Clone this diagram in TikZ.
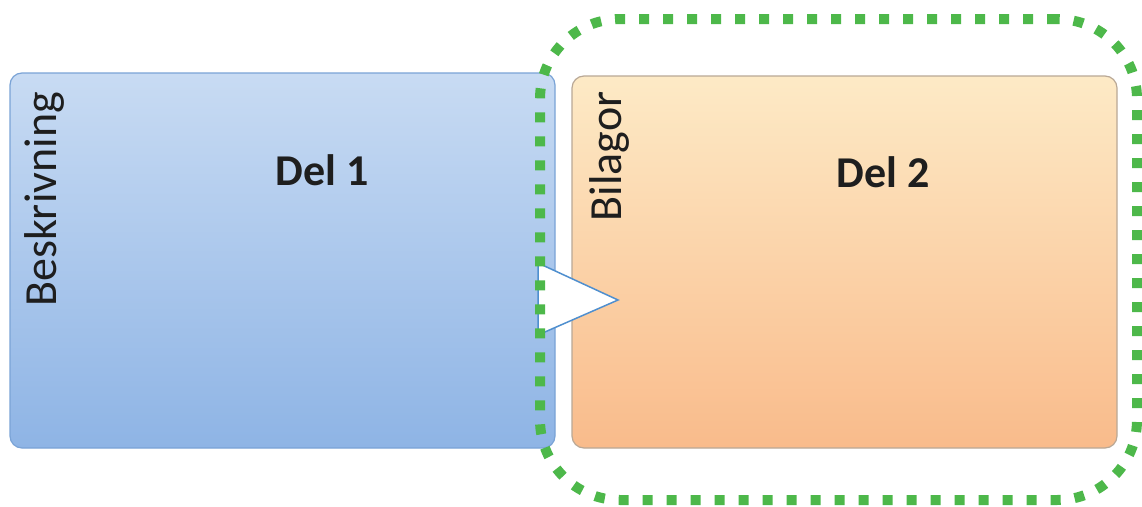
\documentclass[tikz,border=0pt]{standalone}
\usepackage{fontspec}
\setmainfont{Carlito}
\definecolor{blueTop}{HTML}{C8DBF3}
\definecolor{blueBot}{HTML}{8EB4E5}
\definecolor{blueEdge}{HTML}{7AA3D6}
\definecolor{orTop}{HTML}{FDEAC6}
\definecolor{orBot}{HTML}{F9BB8B}
\definecolor{orEdge}{HTML}{B9A896}
\definecolor{grn}{HTML}{4DB84A}
\definecolor{triEdge}{HTML}{4F8FCF}
\definecolor{txt}{HTML}{1E1E1E}
\tikzset{
  panel/.style={rectangle, rounded corners=12pt, line width=1.2pt, inner sep=0pt},
  bluepanel/.style={panel, draw=blueEdge, top color=blueTop, bottom color=blueBot},
  orpanel/.style={panel, draw=orEdge, top color=orTop, bottom color=orBot},
  sidelabel/.style={rotate=90, anchor=base, text=txt, font=\fontsize{46}{54}\selectfont, inner sep=0pt},
  titlelabel/.style={anchor=base, text=txt, font=\fontsize{44}{52}\selectfont\bfseries, inner sep=0pt},
  groupbox/.style={rectangle, draw=grn, line width=10pt, dash pattern=on 10pt off 14pt, rounded corners=80pt, inner sep=0pt},
  arrowtri/.style={fill=white, draw=triEdge, line width=1.5pt, line join=miter}
}
\begin{document}
\begin{tikzpicture}[x=1pt,y=-1pt]
\useasboundingbox (0,0) rectangle (1142,506);
\fill[white] (0,0) rectangle (1142,506);
% panels
\node[bluepanel, minimum width=545pt, minimum height=375pt] (del1) at (282.5,260.5) {};
\node[orpanel, minimum width=545pt, minimum height=372pt] (del2) at (844.5,262) {};
% labels
\node[sidelabel] (beskr) at (56,199.5) {Beskrivning};
\node[sidelabel] (bilag) at (621,156.5) {Bilagor};
\node[titlelabel] (t1) at (322,185) {Del 1};
\node[titlelabel] (t2) at (883,187) {Del 2};
% arrow triangle
\coordinate (ta) at (538,263);
\coordinate (tb) at (618,300);
\coordinate (tc) at (538,335);
\draw[arrowtri] (ta) -- (tb) -- (tc) -- cycle;
% green dashed group
\node[groupbox, minimum width=597pt, minimum height=481pt] (grp) at (838.5,259.5) {};
\end{tikzpicture}
\end{document}
